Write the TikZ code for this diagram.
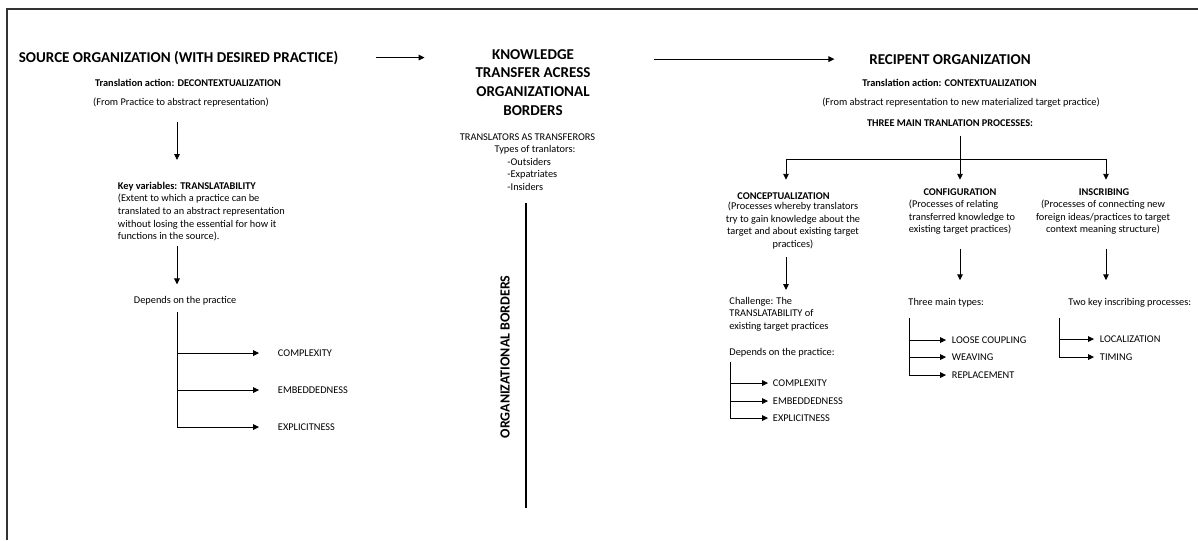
\documentclass[tikz,border=0pt]{standalone}
\usepackage{fontspec}
\setmainfont{Carlito}
\usetikzlibrary{arrows.meta}

\newlength{\px}
\setlength{\px}{0.025cm}
\newcommand\headfont{\fontsize{10.7}{13.2}\selectfont\bfseries}
\newcommand\notefont{\fontsize{7.35}{9}\selectfont}

\tikzset{
  ln/.style={line width=0.6pt},
  arr/.style={ln, -{Triangle[length=4.2pt,width=4pt]}},
  head/.style={font=\headfont, inner sep=0.5pt, align=center},
  note/.style={font=\notefont, inner sep=0.5pt},
  bnote/.style={font=\notefont\bfseries, inner sep=0.5pt},
}

\begin{document}
\begin{tikzpicture}[x=0.025cm, y=-0.025cm]
  \useasboundingbox (0, 0) rectangle (1198, 540);

  % Frame (only top and left edges show)
  \draw[line width=1.4pt, black!80] (7, 540) -- (7, 9) -- (1198, 9);

  % Column axes
  \coordinate (srcaxis) at (177, 0);
  \coordinate (recaxis) at (960, 0);
  \coordinate (conaxis) at (786, 0);
  \coordinate (cfgaxis) at (960, 0);
  \coordinate (insaxis) at (1106, 0);
  \coordinate (conspine) at (730, 0);
  \coordinate (cfgspine) at (909, 0);
  \coordinate (insspine) at (1059, 0);
  \coordinate (hub) at (960, 159);

  % Source organization
  \node[head, anchor=base] (src) at (178.5, 62) {SOURCE ORGANIZATION (WITH DESIRED PRACTICE)};
  \node[bnote, anchor=base] (srcact) at (188, 86.5) {Translation action: DECONTEXTUALIZATION};
  \node[note, anchor=base] (srcfrom) at (181, 105.5) {(From Practice to abstract representation)};
  \node[note, align=left, anchor=north west] (keyvar) at (117, 181) {\textbf{Key variables: TRANSLATABILITY}\\(Extent to which a practice can be\\translated to an abstract representation\\without losing the essential for how it\\functions in the source).};
  \node[note, anchor=base west] (srcdep) at (133, 303.5) {Depends on the practice};
  \node[note, anchor=base west] (scplx) at (277, 356.4) {COMPLEXITY};
  \node[note, anchor=base west] (sembd) at (277, 393.4) {EMBEDDEDNESS};
  \node[note, anchor=base west] (sexpl) at (277, 430.4) {EXPLICITNESS};

  \draw[arr, shorten <=14\px, shorten >=21\px] (srcfrom.south -| srcaxis) -- (keyvar.north -| srcaxis);
  \draw[arr, shorten <=4\px, shorten >=11\px] (keyvar.south -| srcaxis) -- (srcdep.north -| srcaxis);
  \draw[ln, shorten <=6\px] (srcdep.south -| srcaxis) -- (srcaxis |- sexpl);
  \foreach \item in {scplx, sembd, sexpl}
    \draw[arr, shorten >=18\px] (srcaxis |- \item) -- (\item);

  % Knowledge transfer across the border
  \node[head, anchor=north] (ktrans) at (533, 48.5) {KNOWLEDGE\\TRANSFER ACRESS\\ORGANIZATIONAL\\BORDERS};
  \node[note, anchor=base] (tlr) at (527.5, 140.4) {TRANSLATORS AS TRANSFERORS};
  \node[note, anchor=base] (ttypes) at (535, 152.4) {Types of tranlators:};
  \node[note, align=left, anchor=north west] (tlist) at (506.5, 157) {-Outsiders\\-Expatriates\\-Insiders};

  \coordinate (btop) at (526, 203);
  \coordinate (bbot) at (526, 508);
  \draw[line width=2pt] (btop) -- (bbot);
  \node[font=\fontsize{9.9}{12}\selectfont\bfseries, rotate=90] (blabel) at (505, 357) {ORGANIZATIONAL BORDERS};

  % Recipient organization
  \node[head, anchor=base] (rec) at (950, 64) {RECIPENT ORGANIZATION};
  \node[bnote, anchor=base] (recact) at (949.5, 86.5) {Translation action: CONTEXTUALIZATION};
  \node[note, anchor=base] (recfrom) at (961, 105.5) {(From abstract representation to new materialized target practice)};
  \node[bnote, anchor=base] (procs) at (950, 126.5) {THREE MAIN TRANLATION PROCESSES:};

  \draw[arr, shorten <=37\px, shorten >=50\px] (src.east) -- (src.east -| ktrans.west);
  \draw[arr, shorten <=63\px, shorten >=34\px] (ktrans.east |- rec) -- (rec);

  \node[bnote, anchor=base] (concept) at (783.5, 199.5) {CONCEPTUALIZATION};
  \node[bnote, anchor=base] (config) at (960, 195.5) {CONFIGURATION};
  \node[bnote, anchor=base] (inscr) at (1104, 195.5) {INSCRIBING};

  \draw[arr, shorten <=8\px, shorten >=8\px] (procs.south -| recaxis) -- (config.north -| recaxis);
  \draw[ln] (hub -| conaxis) -- (hub -| insaxis);
  \draw[arr, shorten >=12\px] (hub -| conaxis) -- (concept.north -| conaxis);
  \draw[arr, shorten >=8\px] (hub -| insaxis) -- (inscr.north -| insaxis);

  % Conceptualization
  \node[note, align=center, anchor=north] (condesc) at (793, 201) {(Processes whereby translators\\try to gain knowledge about the\\target and about existing target\\practices)};
  \node[note, align=left, anchor=north west] (chall) at (728.5, 296) {Challenge: The\\TRANSLATABILITY of\\existing target practices};
  \node[note, anchor=base west] (condep) at (728.5, 355.4) {Depends on the practice:};
  \node[note, anchor=base west] (ccplx) at (772, 386.4) {COMPLEXITY};
  \node[note, anchor=base west] (cembd) at (772, 404.4) {EMBEDDEDNESS};
  \node[note, anchor=base west] (cexpl) at (772, 421.4) {EXPLICITNESS};

  \draw[arr, shorten <=7\px, shorten >=6\px] (condesc.south -| conaxis) -- (chall.north -| conaxis);
  \draw[ln, shorten <=4\px] (condep.south -| conspine) -- (conspine |- cexpl);
  \foreach \item in {ccplx, cembd, cexpl}
    \draw[arr, shorten >=4\px] (conspine |- \item) -- (\item);

  % Configuration
  \node[note, align=left, anchor=north west] (cfgdesc) at (908, 199) {(Processes of relating\\transferred knowledge to\\existing target practices)};
  \node[note, anchor=base west] (cfgtypes) at (907.5, 305.4) {Three main types:};
  \node[note, anchor=base west] (cloose) at (951, 343.4) {LOOSE COUPLING};
  \node[note, anchor=base west] (cweave) at (951, 360.4) {WEAVING};
  \node[note, anchor=base west] (crepl) at (951, 378.4) {REPLACEMENT};

  \draw[arr, shorten <=13\px, shorten >=17\px] (cfgdesc.south -| cfgaxis) -- (cfgtypes.north -| cfgaxis);
  \draw[ln, shorten <=10\px] (cfgtypes.south -| cfgspine) -- (cfgspine |- crepl);
  \foreach \item in {cloose, cweave, crepl}
    \draw[arr, shorten >=5\px] (cfgspine |- \item) -- (\item);

  % Inscribing
  \node[note, align=center, anchor=north] (insdesc) at (1103, 199) {(Processes of connecting new\\foreign ideas/practices to target\\context meaning structure)};
  \node[note, anchor=base west] (instypes) at (1067.5, 305.4) {Two key inscribing processes:};
  \node[note, anchor=base west] (iloc) at (1099, 342.4) {LOCALIZATION};
  \node[note, anchor=base west] (itime) at (1099, 360.4) {TIMING};

  \draw[arr, shorten <=13\px, shorten >=17\px] (insdesc.south -| insaxis) -- (instypes.north -| insaxis);
  \draw[ln, shorten <=10\px] (instypes.south -| insspine) -- (insspine |- itime);
  \foreach \item in {iloc, itime}
    \draw[arr, shorten >=5\px] (insspine |- \item) -- (\item);
\end{tikzpicture}
\end{document}
